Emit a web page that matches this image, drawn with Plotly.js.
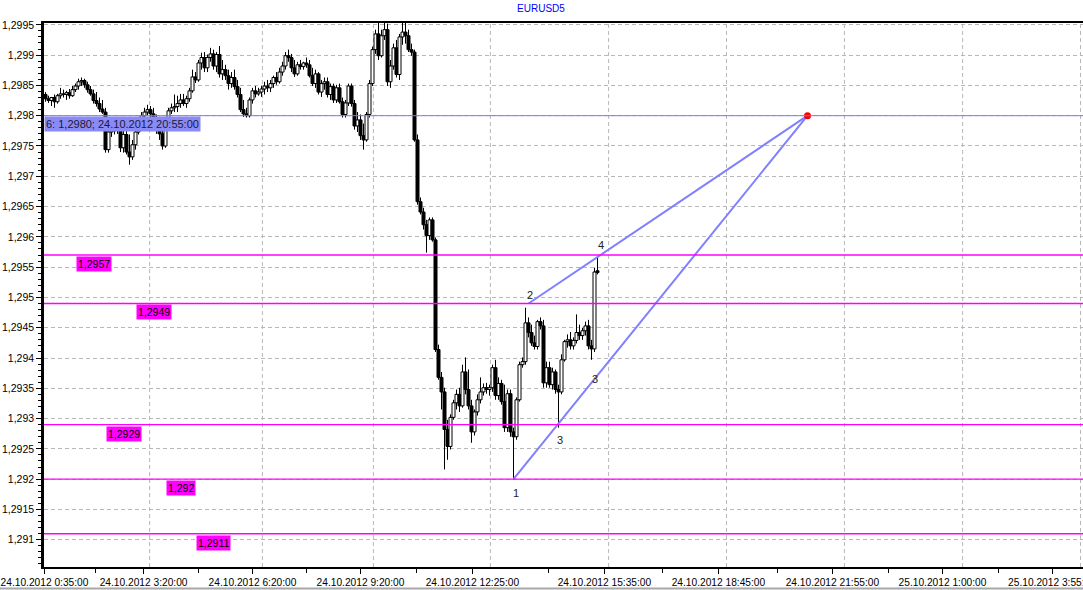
<!DOCTYPE html>
<html><head><meta charset="utf-8">
<script src="https://cdn.plot.ly/plotly-3.0.1.min.js"></script>
<style>html,body{margin:0;padding:0;background:#fff;}#chart{width:1083px;height:590px;}</style>
</head><body><div id="chart"></div>
<script>
const chartTitle = 'EURUSD5';

const openP = [1.29835,1.29828,1.29825,1.29830,1.29823,1.29833,1.29836,1.29835,1.29838,1.29833,
1.29843,1.29849,1.29856,1.29858,1.29851,1.29843,1.29836,1.29825,1.29820,1.29811,
1.29806,1.29744,1.29773,1.29775,1.29778,1.29780,1.29747,1.29769,1.29740,1.29732,
1.29752,1.29773,1.29780,1.29800,1.29806,1.29810,1.29803,1.29790,1.29777,1.29770,
1.29750,1.29780,1.29808,1.29813,1.29815,1.29820,1.29826,1.29820,1.29828,1.29841,
1.29864,1.29859,1.29887,1.29896,1.29879,1.29896,1.29902,1.29882,1.29901,1.29869,
1.29876,1.29866,1.29853,1.29863,1.29848,1.29835,1.29810,1.29803,1.29800,1.29826,
1.29841,1.29836,1.29839,1.29844,1.29849,1.29846,1.29853,1.29863,1.29856,1.29872,
1.29882,1.29899,1.29896,1.29879,1.29869,1.29884,1.29881,1.29887,1.29884,1.29866,
1.29853,1.29869,1.29839,1.29853,1.29856,1.29835,1.29848,1.29826,1.29846,1.29823,
1.29802,1.29821,1.29849,1.29820,1.29783,1.29793,1.29767,1.29760,1.29802,1.29853,
1.29909,1.29935,1.29899,1.29932,1.29942,1.29856,1.29882,1.29912,1.29868,1.29930,
1.29938,1.29932,1.29909,1.29905,1.29760,1.29658,1.29641,1.29620,1.29602,1.29628,
1.29595,1.29414,1.29368,1.29344,1.29282,1.29254,1.29302,1.29326,1.29340,1.29321,
1.29377,1.29348,1.29321,1.29278,1.29311,1.29331,1.29344,1.29351,1.29348,1.29351,
1.29384,1.29338,1.29358,1.29328,1.29285,1.29341,1.29278,1.29270,1.29331,1.29389,
1.29394,1.29458,1.29442,1.29425,1.29419,1.29460,1.29453,1.29359,1.29384,1.29356,
1.29377,1.29348,1.29344,1.29397,1.29427,1.29430,1.29420,1.29429,1.29442,1.29437,
1.29445,1.29453,1.29420,1.29415,1.29544];

const highP = [1.29839,1.29833,1.29831,1.29835,1.29836,1.29846,1.29843,1.29841,1.29844,1.29849,
1.29853,1.29861,1.29863,1.29861,1.29856,1.29849,1.29843,1.29839,1.29830,1.29826,
1.29813,1.29785,1.29782,1.29783,1.29787,1.29785,1.29777,1.29775,1.29769,1.29760,
1.29777,1.29785,1.29806,1.29813,1.29818,1.29816,1.29813,1.29802,1.29785,1.29780,
1.29785,1.29813,1.29820,1.29835,1.29833,1.29836,1.29836,1.29833,1.29846,1.29876,
1.29872,1.29892,1.29904,1.29905,1.29901,1.29912,1.29909,1.29905,1.29915,1.29892,
1.29884,1.29876,1.29872,1.29876,1.29859,1.29846,1.29826,1.29813,1.29830,1.29846,
1.29849,1.29846,1.29849,1.29856,1.29859,1.29859,1.29866,1.29872,1.29879,1.29889,
1.29905,1.29909,1.29902,1.29892,1.29889,1.29892,1.29889,1.29896,1.29892,1.29879,
1.29876,1.29872,1.29859,1.29863,1.29863,1.29853,1.29853,1.29851,1.29853,1.29830,
1.29826,1.29853,1.29853,1.29826,1.29806,1.29802,1.29787,1.29806,1.29859,1.29914,
1.29942,1.29955,1.29942,1.29958,1.29952,1.29892,1.29919,1.29925,1.29935,1.29958,
1.29955,1.29942,1.29919,1.29909,1.29769,1.29665,1.29648,1.29628,1.29632,1.29632,
1.29599,1.29422,1.29377,1.29351,1.29298,1.29307,1.29331,1.29348,1.29351,1.29389,
1.29401,1.29381,1.29331,1.29315,1.29340,1.29368,1.29358,1.29359,1.29356,1.29389,
1.29397,1.29368,1.29364,1.29356,1.29348,1.29348,1.29285,1.29335,1.29394,1.29401,
1.29483,1.29467,1.29455,1.29437,1.29463,1.29467,1.29463,1.29394,1.29394,1.29384,
1.29381,1.29356,1.29406,1.29430,1.29439,1.29443,1.29434,1.29472,1.29455,1.29450,
1.29460,1.29463,1.29430,1.29549,1.29566];

const lowP = [1.29823,1.29821,1.29816,1.29813,1.29820,1.29828,1.29830,1.29826,1.29828,1.29831,
1.29839,1.29843,1.29849,1.29846,1.29838,1.29833,1.29820,1.29815,1.29806,1.29803,
1.29739,1.29739,1.29765,1.29769,1.29770,1.29740,1.29739,1.29736,1.29719,1.29727,
1.29744,1.29769,1.29777,1.29793,1.29800,1.29797,1.29785,1.29770,1.29760,1.29744,
1.29747,1.29777,1.29803,1.29806,1.29806,1.29813,1.29816,1.29813,1.29823,1.29838,
1.29854,1.29856,1.29876,1.29872,1.29872,1.29889,1.29876,1.29872,1.29863,1.29859,
1.29859,1.29843,1.29846,1.29843,1.29830,1.29806,1.29798,1.29797,1.29797,1.29820,
1.29830,1.29833,1.29831,1.29835,1.29839,1.29839,1.29846,1.29851,1.29853,1.29866,
1.29876,1.29889,1.29872,1.29864,1.29866,1.29876,1.29876,1.29879,1.29863,1.29849,
1.29846,1.29835,1.29831,1.29843,1.29830,1.29826,1.29821,1.29821,1.29820,1.29797,
1.29797,1.29816,1.29815,1.29777,1.29773,1.29760,1.29744,1.29757,1.29797,1.29849,
1.29902,1.29892,1.29896,1.29925,1.29849,1.29846,1.29876,1.29863,1.29859,1.29917,
1.29919,1.29905,1.29899,1.29757,1.29653,1.29637,1.29612,1.29574,1.29595,1.29592,
1.29410,1.29364,1.29315,1.29216,1.29232,1.29249,1.29298,1.29315,1.29311,1.29318,
1.29340,1.29315,1.29260,1.29272,1.29305,1.29325,1.29338,1.29341,1.29338,1.29344,
1.29331,1.29331,1.29323,1.29278,1.29278,1.29270,1.29200,1.29265,1.29328,1.29384,
1.29389,1.29434,1.29420,1.29414,1.29414,1.29447,1.29351,1.29351,1.29351,1.29348,
1.29341,1.29285,1.29340,1.29394,1.29417,1.29414,1.29414,1.29424,1.29430,1.29430,
1.29437,1.29414,1.29397,1.29410,1.29538];

const closeP = [1.29828,1.29825,1.29830,1.29823,1.29833,1.29836,1.29835,1.29838,1.29833,1.29843,
1.29849,1.29856,1.29858,1.29851,1.29843,1.29836,1.29825,1.29820,1.29811,1.29806,
1.29744,1.29773,1.29775,1.29778,1.29780,1.29747,1.29769,1.29740,1.29732,1.29752,
1.29773,1.29780,1.29800,1.29806,1.29810,1.29803,1.29790,1.29777,1.29770,1.29750,
1.29780,1.29808,1.29813,1.29815,1.29820,1.29826,1.29820,1.29828,1.29841,1.29864,
1.29859,1.29887,1.29896,1.29879,1.29896,1.29902,1.29882,1.29901,1.29869,1.29876,
1.29866,1.29853,1.29863,1.29848,1.29835,1.29810,1.29803,1.29800,1.29826,1.29841,
1.29836,1.29839,1.29844,1.29849,1.29846,1.29853,1.29863,1.29856,1.29872,1.29882,
1.29899,1.29896,1.29879,1.29869,1.29884,1.29881,1.29887,1.29884,1.29866,1.29853,
1.29869,1.29839,1.29853,1.29856,1.29835,1.29848,1.29826,1.29846,1.29823,1.29802,
1.29821,1.29849,1.29820,1.29783,1.29793,1.29767,1.29760,1.29802,1.29853,1.29909,
1.29935,1.29899,1.29932,1.29942,1.29856,1.29882,1.29912,1.29868,1.29930,1.29938,
1.29932,1.29909,1.29905,1.29760,1.29658,1.29641,1.29620,1.29602,1.29628,1.29595,
1.29414,1.29368,1.29344,1.29282,1.29254,1.29302,1.29326,1.29340,1.29321,1.29377,
1.29348,1.29321,1.29278,1.29311,1.29331,1.29344,1.29351,1.29348,1.29351,1.29384,
1.29338,1.29358,1.29328,1.29285,1.29341,1.29278,1.29270,1.29331,1.29389,1.29394,
1.29458,1.29442,1.29425,1.29419,1.29460,1.29453,1.29359,1.29384,1.29356,1.29377,
1.29348,1.29344,1.29397,1.29427,1.29430,1.29420,1.29429,1.29442,1.29437,1.29445,
1.29453,1.29420,1.29415,1.29542,1.29541];

// x tick labels (bar-index positions are layout)
const xTickLabels = ['24.10.2012 0:35:00','24.10.2012 3:20:00','24.10.2012 6:20:00','24.10.2012 9:20:00',
  '24.10.2012 12:25:00','24.10.2012 15:35:00','24.10.2012 18:45:00','24.10.2012 21:55:00',
  '25.10.2012 1:00:00','25.10.2012 3:55:00'];
const xTickPos = [-0.33, 32.7, 69, 105, 142.3, 186.3, 224.3, 262.3, 299, 335.5];
const xMinorPos = [16.7, 51, 87, 123.7, 167.7, 205.7, 244, 281, 317.7];
const xGridPos = [34.7, 72.3, 109.3, 148.3, 187.7, 227, 266.3, 305.7, 345];

const yTickVals = [1.2910,1.2915,1.2920,1.2925,1.2930,1.2935,1.2940,1.2945,1.2950,1.2955,1.2960,1.2965,1.2970,1.2975,1.2980,1.2985,1.2990,1.2995];
const yTickText = ['1,291','1,2915','1,292','1,2925','1,293','1,2935','1,294','1,2945','1,295','1,2955','1,296','1,2965','1,297','1,2975','1,298','1,2985','1,299','1,2995'];

// horizontal levels
const levelPrices = [1.2957, 1.2949, 1.2929, 1.2920, 1.2911];
const levelLabels = ['1,2957','1,2949','1,2929','1,292','1,2911'];
const levelLabelBar = [10, 30, 20, 40, 50];
const levelWidths = [1.5, 1.5, 1.2, 1.2, 1.5];

const markerPrice = 1.2980;
const markerLabel = '6: 1,2980; 24.10.2012 20:55:00';

// pattern points 1,2,3,4,6
const patternNames = ['1','2','3','4','6'];
const patternBars = [156, 161, 170.7, 185, 254];
const patternPrices = [1.2920, 1.2949, 1.2929, 1.2957, 1.2980];

const bars = openP.map((_, i) => i);
const FONT = 'Liberation Sans, Arial, sans-serif';

// candle parts derived from OHLC
const bodyTop = openP.map((o, i) => Math.max(o, closeP[i]));
const bodyBot = openP.map((o, i) => Math.min(o, closeP[i]));
const bodyLen = bodyTop.map((t, i) => Math.max(t - bodyBot[i], 0.000004));
const bodyCol = openP.map((o, i) => closeP[i] >= o ? '#ffffff' : '#000000');
const wickX = [], wickY = [];
bars.forEach(i => {
  if (highP[i] > bodyTop[i]) { wickX.push(i, i, null); wickY.push(bodyTop[i], highP[i], null); }
  if (lowP[i] < bodyBot[i]) { wickX.push(i, i, null); wickY.push(lowP[i], bodyBot[i], null); }
});

const traces = [
  {type:'bar', x:bars, y:bodyLen, base:bodyBot, width:1.0,
   marker:{color:bodyCol, line:{color:'#000', width:1}}, hoverinfo:'skip', showlegend:false},
  {type:'scatter', mode:'lines', x:wickX, y:wickY, line:{color:'#000', width:1},
   connectgaps:false, hoverinfo:'skip', showlegend:false},
  {type:'scatter', mode:'lines', x:[patternBars[0], patternBars[4]], y:[patternPrices[0], patternPrices[4]],
   line:{color:'#8080ff', width:2}, hoverinfo:'skip', showlegend:false},
  {type:'scatter', mode:'lines', x:[patternBars[1], patternBars[3], patternBars[4]], y:[patternPrices[1], patternPrices[3], patternPrices[4]],
   line:{color:'#8080ff', width:2}, hoverinfo:'skip', showlegend:false},
  {type:'scatter', mode:'markers', x:[patternBars[4]], y:[patternPrices[4]],
   marker:{color:'#ff0000', size:7}, hoverinfo:'skip', showlegend:false}
];

const shapes = [];
xGridPos.forEach(g => shapes.push({type:'line', xref:'x', yref:'paper', x0:g, x1:g, y0:0, y1:1, layer:'below',
  line:{color:'#b8b8b8', width:1, dash:'4px,3px'}}));
levelPrices.forEach((p, i) => shapes.push({type:'line', xref:'paper', yref:'y', x0:0, x1:1, y0:p, y1:p,
  line:{color:'#ff00ff', width:levelWidths[i]}}));
shapes.push({type:'line', xref:'paper', yref:'y', x0:0, x1:1, y0:markerPrice, y1:markerPrice, line:{color:'#7878ff', width:1}});
shapes.push({type:'line', xref:'paper', yref:'paper', x0:-0.05, x1:1, y0:-0.0395, y1:-0.0395, line:{color:'#a8a8a8', width:2}});

const annotations = [];
levelPrices.forEach((p, i) => annotations.push({x:levelLabelBar[i], y:p, xref:'x', yref:'y', text:levelLabels[i],
  showarrow:false, xanchor:'left', yanchor:'top', yshift:-1, bgcolor:'#ff00ff', borderpad:1,
  font:{family:FONT, size:10.5, color:'#000'}}));
annotations.push({x:-0.5, y:markerPrice, xref:'x', yref:'y', text:markerLabel, showarrow:false,
  xanchor:'left', yanchor:'top', bgcolor:'#8a8af6', borderpad:1, font:{family:FONT, size:11, color:'#1a1a3a'}});
const labelShift = [[2,-14],[1,8],[2,-15],[0,10]];
[0,1,2,3].forEach(k => annotations.push({x:patternBars[k], y:patternPrices[k], xref:'x', yref:'y',
  text:patternNames[k], showarrow:false, xshift:labelShift[k][0], yshift:labelShift[k][1],
  font:{family:FONT, size:11, color:'#222'}}));
annotations.push({x:183, y:1.29365, xref:'x', yref:'y', text:'3', showarrow:false,
  font:{family:FONT, size:11, color:'#222'}});

const layout = {
  width:1083, height:590,
  margin:{l:44, r:0, t:23, b:23},
  paper_bgcolor:'#fff', plot_bgcolor:'#fff',
  title:{text:chartTitle, font:{family:FONT, size:10, color:'#0000ff'}, xref:'container', yref:'container',
    x:541/1083, xanchor:'center', y:1-8/590, yanchor:'middle'},
  showlegend:false, hovermode:false,
  font:{family:FONT, color:'#000'},
  xaxis:{range:[-0.5, 345.83], showline:true, linecolor:'#000', linewidth:2, mirror:true,
    ticks:'outside', ticklen:5, tickcolor:'#000', tickmode:'array', tickvals:xTickPos, ticktext:xTickLabels,
    ticklabeloverflow:'allow', tickangle:0,
    tickfont:{family:FONT, size:10.2, color:'#000'}, showgrid:false, zeroline:false, fixedrange:true,
    minor:{tickmode:'array', tickvals:xMinorPos, ticks:'outside', ticklen:4, tickcolor:'#000', showgrid:false}},
  yaxis:{range:[1.29055, 1.29953], showline:true, linecolor:'#000', linewidth:2.5,
    ticks:'outside', ticklen:5, tickcolor:'#000', tickmode:'array', tickvals:yTickVals, ticktext:yTickText,
    tickfont:{family:FONT, size:10.5, color:'#000'}, showgrid:true, gridcolor:'#b8b8b8', griddash:'4px,3px',
    zeroline:false, fixedrange:true,
    minor:{tickmode:'linear', tick0:1.291, dtick:0.0001, ticks:'outside', ticklen:3, tickcolor:'#000', showgrid:false}},
  shapes:shapes, annotations:annotations
};

Plotly.newPlot('chart', traces, layout, {displayModeBar:false});
</script></body></html>
